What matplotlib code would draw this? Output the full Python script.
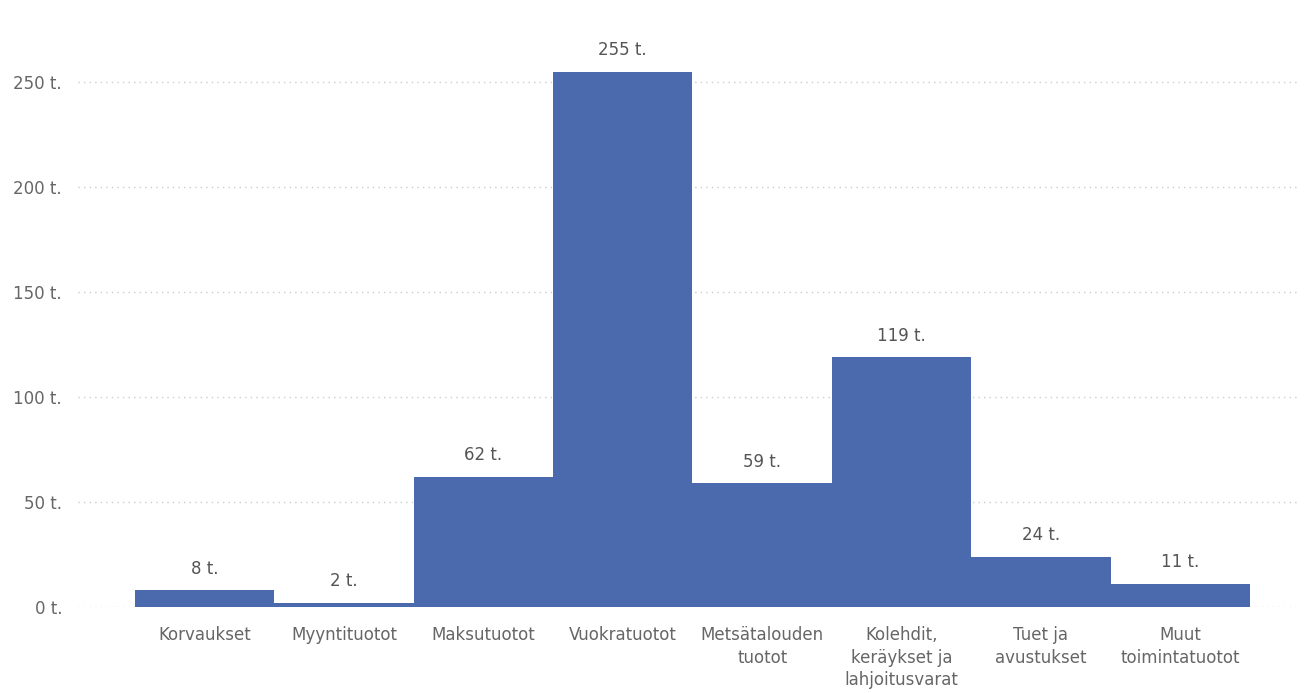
import matplotlib
matplotlib.use("Agg")
import matplotlib.pyplot as plt

categories = ["Korvaukset", "Myyntituotot", "Maksutuotot", "Vuokratuotot",
              "Metsätalouden\ntuotot", "Kolehdit,\nkeräykset ja\nlahjoitusvarat",
              "Tuet ja\navustukset", "Muut\ntoimintatuotot"]
values = [8, 2, 62, 255, 59, 119, 24, 11]
value_labels = ["8 t.", "2 t.", "62 t.", "255 t.", "59 t.", "119 t.", "24 t.", "11 t."]
yticks = [0, 50, 100, 150, 200, 250]
ytick_labels = ["0 t.", "50 t.", "100 t.", "150 t.", "200 t.", "250 t."]

plt.rcParams['font.family'] = ['DejaVu Sans']
W, H = 1304, 693
fig = plt.figure(figsize=(W/100, H/100), dpi=100)
ax = fig.add_axes([78/W, (H-607)/H, (1300-78)/W, (607-30)/H])

x = list(range(len(categories)))
ax.bar(x, values, width=1.0, color="#4b69ad", zorder=3)
ax.set_xlim(-0.909, 7.859)
ax.set_ylim(0, (607-30)/2.1)

ax.set_yticks(yticks)
ax.set_yticklabels(ytick_labels)
ax.set_xticks(x)
ax.set_xticklabels(categories, linespacing=1.3, va='top')
ax.tick_params(axis='y', length=0, pad=11.5, labelsize=12, labelcolor="#666666")
ax.tick_params(axis='x', length=0, pad=14, labelsize=12, labelcolor="#666666")
ax.grid(axis='y', linestyle=(0, (1, 3)), color="#cccccc", linewidth=1, zorder=0)
for s in ax.spines.values():
    s.set_visible(False)

for xi, v, lab in zip(x, values, value_labels):
    ax.annotate(lab, (xi, v), xytext=(0, 15.5), textcoords='offset points',
                ha='center', va='center', fontsize=12, color="#555555")

fig.savefig("out.png", dpi=100, facecolor="white")
